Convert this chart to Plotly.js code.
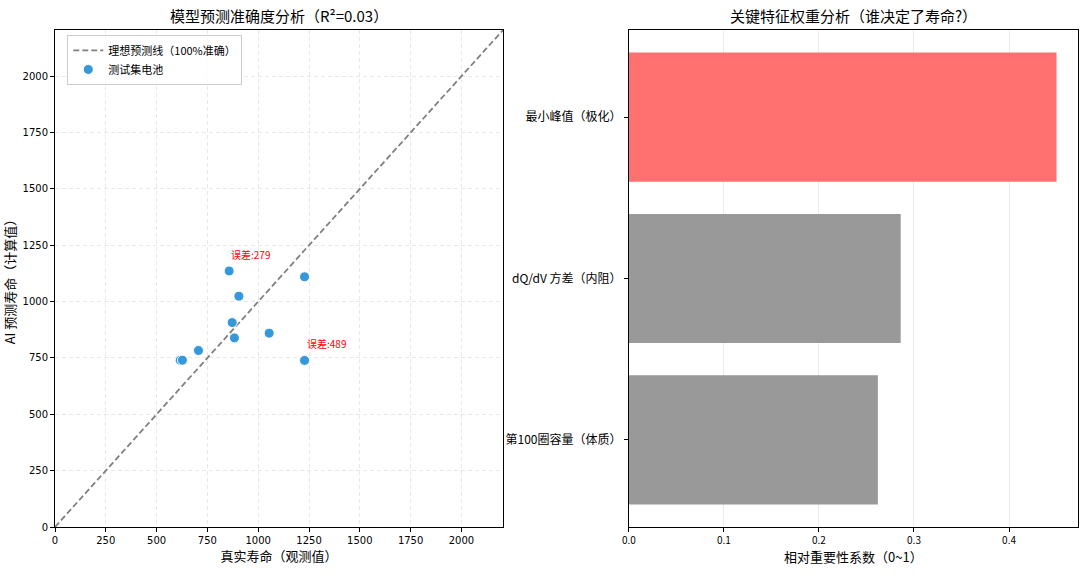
<!DOCTYPE html>
<html>
<head>
<meta charset="utf-8">
<script src="https://cdn.plot.ly/plotly-3.0.1.min.js"></script>
<style>body{margin:0;background:#fff}#chart{width:1080px;height:576px}</style>
</head>
<body>
<div id="chart"></div>
<script>
// test set: observed vs predicted life
var trueLife = [857, 1228, 905, 872, 883, 1054, 706, 616, 627, 1228];
var predLife = [1136, 1110, 1024, 907, 839, 860, 783, 740, 740, 739];
var idealLine = [0, 2205];

// annotated errors
var errX = [857, 1228];
var errY = [1136, 739];
var errText = ["误差:279", "误差:489"];

// feature importance
var features = ["第100圈容量（体质）", "dQ/dV 方差（内阻）", "最小峰值（极化）"];
var importance = [0.262, 0.286, 0.450];
var barColors = ["#999999", "#999999", "#ff7070"];

var cjk = "Noto Sans CJK SC, DejaVu Sans, sans-serif";

var traces = [
  {
    x: idealLine, y: idealLine, type: 'scatter', mode: 'lines',
    name: '理想预测线（100%准确）',
    line: {color: '#808080', width: 1.8, dash: '6px,3px'},
    xaxis: 'x', yaxis: 'y'
  },
  {
    x: trueLife, y: predLife, type: 'scatter', mode: 'markers',
    name: '测试集电池',
    marker: {color: '#3498db', size: 10, line: {color: '#ffffff', width: 1}},
    xaxis: 'x', yaxis: 'y'
  },
  {
    x: importance, y: features, type: 'bar', orientation: 'h',
    marker: {color: barColors}, width: 0.8, showlegend: false,
    xaxis: 'x2', yaxis: 'y2'
  }
];

var annots = errX.map(function(v, i){
  return {
    x: v, y: errY[i], xref: 'x', yref: 'y', text: errText[i],
    showarrow: false, xanchor: 'left', yanchor: 'bottom', yshift: 7,
    font: {color: 'red', size: 10, family: cjk}
  };
});
annots.push({
  text: '模型预测准确度分析（R²=0.03）', xref: 'paper', yref: 'paper',
  x: 0.219, y: 1, yshift: 2, xanchor: 'center', yanchor: 'bottom', showarrow: false,
  font: {size: 15, family: cjk, color: '#000'}
});
annots.push({
  text: '关键特征权重分析（谁决定了寿命?）', xref: 'paper', yref: 'paper',
  x: 0.7805, y: 1, yshift: 2, xanchor: 'center', yanchor: 'bottom', showarrow: false,
  font: {size: 15, family: cjk, color: '#000'}
});

var layout = {
  width: 1080, height: 576,
  margin: {l: 55, r: 2, t: 30, b: 49},
  paper_bgcolor: '#fff', plot_bgcolor: '#fff',
  font: {family: cjk, size: 11, color: '#000'},
  showlegend: true,
  legend: {
    x: 0.012, y: 0.99, xanchor: 'left', yanchor: 'top',
    bgcolor: 'rgba(255,255,255,0.8)', bordercolor: '#cccccc', borderwidth: 1,
    font: {size: 11, family: cjk}
  },
  xaxis: {
    domain: [0, 0.438], range: [0, 2205], dtick: 250, tick0: 0,
    showline: true, mirror: true, linecolor: '#000', linewidth: 1,
    ticks: 'outside', ticklen: 4, tickcolor: '#000',
    showgrid: true, gridcolor: '#e8e8e8', griddash: '4px,3px', zeroline: false,
    tickfont: {family: 'DejaVu Sans, sans-serif', size: 10},
    title: {text: '真实寿命（观测值）', font: {size: 13, family: cjk}, standoff: 6}
  },
  yaxis: {
    domain: [0, 1], range: [0, 2205], dtick: 250, tick0: 0,
    showline: true, mirror: true, linecolor: '#000', linewidth: 1,
    ticks: 'outside', ticklen: 4, tickcolor: '#000',
    showgrid: true, gridcolor: '#e8e8e8', griddash: '4px,3px', zeroline: false,
    tickfont: {family: 'DejaVu Sans, sans-serif', size: 10},
    title: {text: 'AI 预测寿命（计算值）', font: {size: 13, family: cjk}, standoff: 6}
  },
  xaxis2: {
    domain: [0.561, 1], range: [0, 0.4726], dtick: 0.1, tick0: 0, tickformat: '.1f',
    anchor: 'y2',
    showline: true, mirror: true, linecolor: '#000', linewidth: 1,
    ticks: 'outside', ticklen: 4, tickcolor: '#000',
    showgrid: true, gridcolor: '#ebebeb', zeroline: false,
    tickfont: {family: cjk, size: 10},
    title: {text: '相对重要性系数（0~1）', font: {size: 13, family: cjk}, standoff: 6}
  },
  yaxis2: {
    domain: [0, 1], anchor: 'x2', range: [-0.54, 2.54],
    showline: true, mirror: true, linecolor: '#000', linewidth: 1,
    ticks: 'outside', ticklen: 4, tickcolor: '#000',
    showgrid: false, zeroline: false,
    tickfont: {family: cjk, size: 12}
  },
  annotations: annots
};

Plotly.newPlot('chart', traces, layout, {displayModeBar: false});
</script>
</body>
</html>
